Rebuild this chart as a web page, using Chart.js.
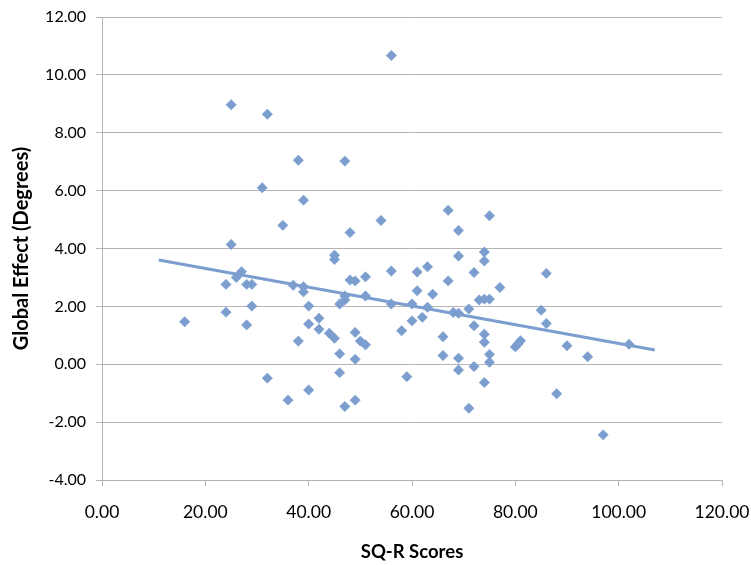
<!DOCTYPE html>
<html>
<head>
<meta charset="utf-8">
<script src="https://cdn.jsdelivr.net/npm/chart.js@4.4.1/dist/chart.umd.min.js"></script>
<style>
  html, body { margin: 0; padding: 0; background: #ffffff; }
  #wrap { width: 751px; height: 565px; }
</style>
</head>
<body>
<div id="wrap"><canvas id="c" width="751" height="565"></canvas></div>
<script>
// SQ-R scores (x) and global effect in degrees (y)
const sqrScores = [
  16, 24, 24, 25, 25, 26, 27, 28, 28, 29, 29, 31, 32, 32, 35, 36, 37, 38, 38, 39,
  39, 39, 40, 40, 40, 42, 42, 44, 45, 45, 45, 46, 46, 46, 47, 47, 47, 47, 48, 48,
  49, 49, 49, 49, 50, 51, 51, 51, 54, 56, 56, 56, 58, 59, 60, 60, 61, 61, 62, 63,
  63, 64, 66, 66, 67, 67, 68, 69, 69, 69, 69, 69, 71, 71, 72, 72, 72, 73, 74, 74,
  74, 74, 74, 74, 75, 75, 75, 75, 77, 80, 80.5, 81, 85, 86, 86, 88, 90, 94, 97, 102
];
const globalEffect = [
  1.47, 2.76, 1.80, 8.97, 4.14, 3.00, 3.20, 2.76, 1.36, 2.76, 2.01, 6.10, 8.64, -0.48, 4.80, -1.24, 2.73, 7.05, 0.80, 5.67,
  2.68, 2.50, 2.01, 1.39, -0.89, 1.59, 1.21, 1.07, 0.90, 3.77, 3.62, 0.36, -0.29, 2.08, 7.02, 2.36, 2.22, -1.46, 4.55, 2.91,
  2.88, 1.10, 0.17, -1.24, 0.80, 0.67, 3.02, 2.36, 4.97, 10.67, 3.22, 2.08, 1.16, -0.43, 2.08, 1.50, 3.19, 2.54, 1.62, 3.37,
  1.97, 2.42, 0.95, 0.30, 5.32, 2.88, 1.79, 4.62, 3.74, 1.76, 0.21, -0.20, 1.91, -1.52, 3.17, 1.33, -0.08, 2.22, 3.88, 3.57,
  2.25, 1.04, 0.76, -0.63, 5.13, 2.25, 0.34, 0.07, 2.65, 0.60, 0.70, 0.81, 1.87, 3.14, 1.41, -1.02, 0.64, 0.26, -2.44, 0.69
];
// Linear trend line end points
const trendX = [11, 107];
const trendY = [3.60, 0.49];

const xTitle = 'SQ-R Scores';
const yTitle = 'Global Effect (Degrees)';

const blue = 'rgb(123,158,207)';
const gridGray = '#b4b4b4';
const FONT = 'Lato, "Open Sans", "Liberation Sans", sans-serif';

const scatterData = sqrScores.map((x, i) => ({ x: x, y: globalEffect[i] }));
const trendData = trendX.map((x, i) => ({ x: x, y: trendY[i] }));

new Chart(document.getElementById('c'), {
  type: 'scatter',
  data: {
    datasets: [
      {
        label: 'Global Effect',
        data: scatterData,
        pointStyle: 'rectRot',
        pointRadius: 5.2,
        pointBackgroundColor: blue,
        pointBorderColor: blue,
        pointBorderWidth: 0.5,
        order: 1
      },
      {
        type: 'line',
        label: 'Trend',
        data: trendData,
        borderColor: blue,
        borderWidth: 3,
        pointRadius: 0,
        fill: false,
        order: 2
      }
    ]
  },
  options: {
    responsive: false,
    animation: false,
    devicePixelRatio: 1,
    layout: { padding: { top: 17, left: 0, right: 29, bottom: 0 } },
    plugins: {
      legend: { display: false },
      tooltip: { enabled: false }
    },
    scales: {
      x: {
        type: 'linear',
        min: 0, max: 120,
        ticks: {
          stepSize: 20,
          padding: 16,
          color: '#000000',
          font: { family: FONT, size: 17.5 },
          callback: v => Number(v).toFixed(2)
        },
        grid: { drawOnChartArea: false, drawTicks: true, tickLength: 6, color: gridGray, lineWidth: 1 },
        border: { display: true, color: gridGray, width: 1 },
        title: {
          display: true,
          text: xTitle,
          color: '#000000',
          font: { family: FONT, size: 18.5, weight: 'bold' },
          padding: { top: 0, bottom: 2 }
        },
        afterFit: s => { s.height = 85; s.paddingLeft = 0; s.paddingRight = 0; }
      },
      y: {
        type: 'linear',
        min: -4, max: 12,
        ticks: {
          stepSize: 2,
          padding: 10,
          color: '#000000',
          font: { family: FONT, size: 16 },
          callback: v => Number(v).toFixed(2)
        },
        grid: { drawOnChartArea: true, drawTicks: true, tickLength: 6, color: gridGray, lineWidth: 1 },
        border: { display: true, color: gridGray, width: 1 },
        title: {
          display: true,
          text: yTitle,
          color: '#000000',
          font: { family: FONT, size: 20, weight: 'bold' },
          padding: { top: 10, bottom: 0 }
        },
        afterFit: s => { s.width = 102; s.paddingTop = 0; s.paddingBottom = 0; }
      }
    }
  }
});
</script>
</body>
</html>
